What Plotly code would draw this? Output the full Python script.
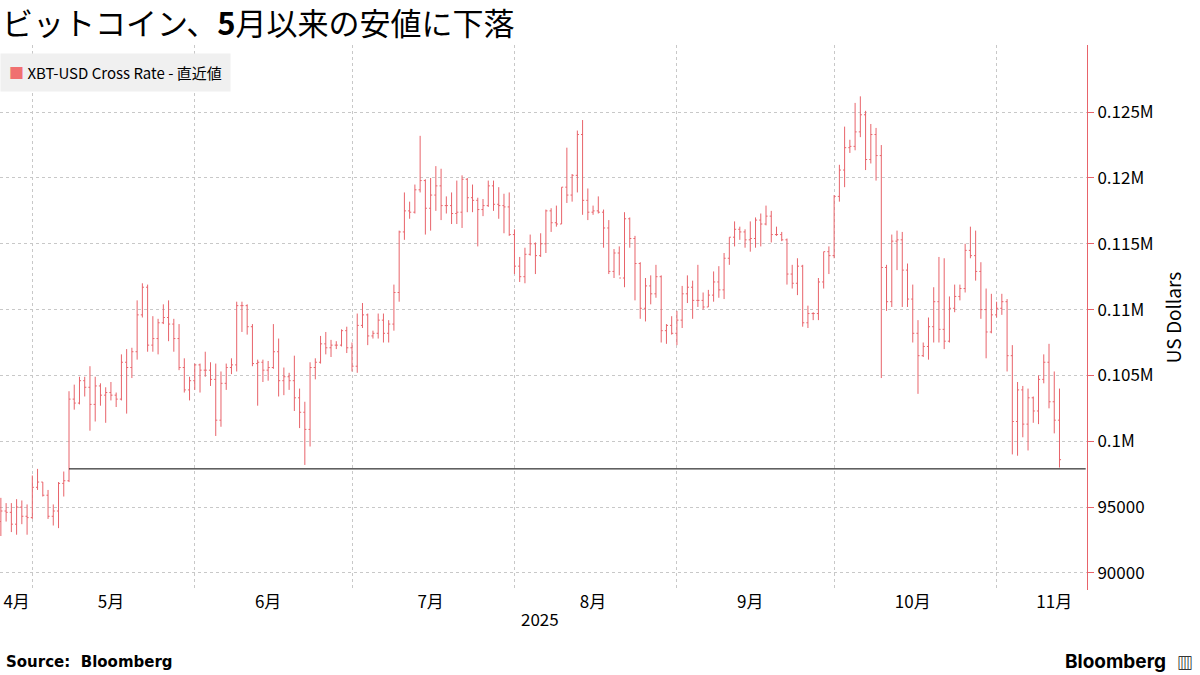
import pandas as pd
import plotly.graph_objects as go

# daily OHLC, thousands of USD, 2025-04-25 .. 2025-11-13
start_day = '2025-04-25'
opens = [93.9, 94.7, 94.6, 93.7, 95.0, 94.3, 94.2, 96.5, 96.9, 95.9, 94.3, 94.7, 96.8, 97.0, 103.2, 102.9, 104.6, 104.1, 102.8, 104.2,
         103.5, 103.7, 103.5, 103.2, 106.0, 105.6, 106.8, 109.6, 111.7, 107.3, 107.8, 109.0, 109.4, 108.9, 107.8, 105.6, 103.9,
         104.6, 105.8, 105.4, 105.4, 104.7, 101.6, 104.4, 105.6, 105.8, 110.3, 110.3, 108.7, 105.9, 106.0, 105.4, 105.6, 106.8,
         104.6, 104.9, 104.6, 103.3, 102.2, 100.9, 105.6, 106.0, 107.4, 107.1, 107.3, 107.3, 108.4, 107.1, 105.7, 108.8, 109.6,
         108.0, 108.2, 109.2, 108.2, 108.9, 111.3, 115.9, 117.5, 117.4, 119.1, 119.8, 117.7, 118.7, 119.4, 117.9, 117.9, 117.3,
         117.4, 119.9, 118.5, 118.3, 117.6, 117.9, 119.4, 118.0, 117.9, 117.8, 115.7, 113.3, 112.5, 114.2, 115.0, 114.1, 115.0,
         117.5, 116.6, 116.5, 119.3, 118.7, 120.2, 123.3, 118.3, 117.4, 117.5, 117.4, 116.2, 112.9, 114.3, 112.4, 116.9, 115.4,
         113.5, 110.1, 111.8, 111.2, 112.5, 108.4, 108.8, 108.2, 109.2, 111.2, 111.7, 110.7, 110.7, 110.2, 111.1, 112.1, 111.5,
         113.9, 115.5, 116.1, 115.9, 115.3, 115.4, 116.8, 116.5, 117.1, 115.7, 115.7, 115.3, 112.7, 112.0, 113.3, 109.0, 109.7,
         109.7, 112.1, 114.4, 114.1, 118.6, 120.6, 122.3, 122.4, 123.5, 124.8, 121.4, 123.3, 121.7, 113.2, 110.6, 115.2, 115.3,
         113.0, 110.8, 108.2, 106.5, 107.2, 108.7, 110.6, 108.5, 107.6, 110.1, 111.0, 111.6, 114.5, 114.1, 112.9, 110.0, 108.3,
         109.6, 110.1, 110.6, 106.5, 101.5, 103.9, 101.3, 103.3, 102.3, 104.7, 106.0, 103.0, 101.6]
highs = [95.7, 95.3, 95.3, 95.6, 95.5, 95.2, 97.4, 97.9, 96.9, 96.3, 95.2, 96.9, 97.7, 103.8, 104.3, 104.9, 104.9, 105.7, 104.9, 104.4,
         104.1, 104.5, 103.7, 106.6, 107.0, 107.1, 110.7, 112.0, 111.9, 109.5, 109.3, 110.4, 110.7, 109.3, 108.9, 106.3, 104.9,
         105.9, 105.9, 106.8, 106.0, 105.9, 105.3, 105.9, 106.3, 110.6, 110.6, 110.4, 108.9, 106.2, 106.2, 106.1, 108.9, 107.8,
         105.6, 105.2, 106.5, 104.0, 103.0, 106.0, 106.3, 108.0, 108.3, 107.7, 107.6, 108.5, 108.7, 107.5, 109.7, 110.5, 109.7,
         108.4, 109.7, 109.7, 109.2, 111.9, 116.0, 118.9, 118.2, 119.5, 123.2, 119.9, 120.0, 120.9, 120.7, 118.6, 118.9, 119.8,
         120.2, 120.0, 119.5, 118.5, 118.4, 119.8, 119.8, 119.3, 118.8, 118.9, 116.1, 114.0, 114.7, 115.7, 115.1, 115.8, 117.6,
         117.7, 117.9, 119.3, 122.3, 120.3, 123.6, 124.4, 119.2, 117.9, 118.6, 117.6, 116.8, 114.6, 114.8, 117.4, 117.0, 115.6,
         113.6, 112.4, 112.6, 113.4, 112.6, 108.9, 109.5, 109.9, 111.8, 112.6, 112.2, 113.4, 111.3, 111.5, 112.9, 113.3, 114.3,
         115.5, 116.7, 116.3, 116.1, 116.7, 117.0, 117.3, 117.9, 117.5, 116.3, 115.9, 115.4, 113.4, 113.9, 113.4, 110.3, 109.8,
         112.4, 114.4, 114.8, 118.7, 121.0, 123.9, 122.9, 125.7, 126.2, 125.1, 124.1, 123.8, 122.5, 113.4, 115.7, 116.0, 115.9,
         113.5, 111.9, 109.2, 107.5, 109.4, 111.7, 114.0, 113.9, 111.0, 111.9, 111.9, 115.0, 116.3, 116.0, 113.6, 111.6, 111.2,
         110.6, 111.2, 110.8, 107.3, 104.5, 104.2, 104.0, 103.4, 105.0, 106.6, 107.4, 105.3, 104.0]
lows = [92.8, 93.9, 93.1, 92.9, 93.7, 92.9, 94.1, 96.3, 95.8, 94.1, 93.6, 93.4, 95.8, 96.9, 102.4, 102.8, 103.4, 100.8, 101.5, 102.7,
        101.4, 103.1, 102.6, 103.1, 102.1, 104.8, 106.2, 109.4, 106.8, 106.8, 106.6, 108.9, 107.6, 106.8, 105.4, 103.7, 103.1,
        103.9, 103.7, 104.9, 104.2, 100.4, 101.1, 103.9, 105.1, 105.3, 108.3, 108.1, 105.7, 102.7, 104.5, 104.6, 105.5, 103.4,
        103.5, 103.9, 102.3, 101.0, 98.2, 99.6, 104.7, 105.9, 106.6, 106.4, 107.0, 107.2, 106.7, 105.3, 105.2, 108.6, 107.3,
        107.8, 107.8, 107.5, 107.5, 108.4, 110.6, 115.3, 116.9, 117.3, 118.9, 115.7, 116.0, 117.5, 116.8, 117.3, 116.5, 116.5,
        116.2, 117.4, 117.4, 114.8, 117.1, 117.8, 117.5, 116.9, 115.8, 115.6, 112.7, 112.1, 112.0, 114.1, 112.7, 114.0, 114.3,
        115.9, 116.3, 116.5, 118.1, 118.2, 118.9, 117.2, 116.8, 117.2, 117.3, 114.7, 112.7, 112.4, 112.6, 111.7, 114.7, 110.7,
        109.3, 109.1, 110.4, 110.9, 107.5, 107.4, 108.1, 107.3, 108.6, 110.5, 109.3, 110.2, 110.0, 110.2, 110.6, 110.9, 110.8,
        113.4, 114.8, 115.3, 114.7, 114.4, 114.7, 114.8, 116.4, 115.1, 115.6, 115.2, 111.9, 111.6, 111.1, 108.7, 108.6, 109.2,
        109.2, 111.6, 112.7, 113.9, 118.2, 119.3, 121.9, 122.1, 123.1, 120.6, 121.1, 119.8, 104.8, 109.9, 110.2, 113.0, 110.2,
        110.2, 107.5, 103.6, 106.4, 106.2, 107.5, 107.5, 107.0, 107.5, 109.8, 110.7, 111.3, 113.9, 112.2, 109.3, 106.3, 108.2,
        109.4, 109.6, 105.3, 99.0, 98.9, 100.3, 99.3, 101.4, 101.3, 104.4, 102.5, 100.6, 98.0]
closes = [94.7, 94.6, 93.7, 95.0, 94.3, 94.2, 96.5, 96.9, 95.9, 94.3, 94.7, 96.8, 97.0, 103.2, 102.9, 104.6, 104.1, 102.8, 104.2,
          103.5, 103.7, 103.5, 103.2, 106.0, 105.6, 106.8, 109.6, 111.7, 107.3, 107.8, 109.0, 109.4, 108.9, 107.8, 105.6, 103.9,
          104.6, 105.8, 105.4, 105.4, 104.7, 101.6, 104.4, 105.6, 105.8, 110.3, 110.3, 108.7, 105.9, 106.0, 105.4, 105.6, 106.8,
          104.6, 104.9, 104.6, 103.3, 102.2, 100.9, 105.6, 106.0, 107.4, 107.1, 107.3, 107.3, 108.4, 107.1, 105.7, 108.8, 109.6,
          108.0, 108.2, 109.2, 108.2, 108.9, 111.3, 115.9, 117.5, 117.4, 119.1, 119.8, 117.7, 118.7, 119.4, 117.9, 117.9, 117.3,
          117.4, 119.9, 118.5, 118.3, 117.6, 117.9, 119.4, 118.0, 117.9, 117.8, 115.7, 113.3, 112.5, 114.2, 115.0, 114.1, 115.0,
          117.5, 116.6, 116.5, 119.3, 118.7, 120.2, 123.3, 118.3, 117.4, 117.5, 117.4, 116.2, 112.9, 114.3, 112.4, 116.9, 115.4,
          113.5, 110.1, 111.8, 111.2, 112.5, 108.4, 108.8, 108.2, 109.2, 111.2, 111.7, 110.7, 110.7, 110.2, 111.1, 112.1, 111.5,
          113.9, 115.5, 116.1, 115.9, 115.3, 115.4, 116.8, 116.5, 117.1, 115.7, 115.7, 115.3, 112.7, 112.0, 113.3, 109.0, 109.7,
          109.7, 112.1, 114.4, 114.1, 118.6, 120.6, 122.3, 122.4, 123.5, 124.8, 121.4, 123.3, 121.7, 113.2, 110.6, 115.2, 115.3,
          113.0, 110.8, 108.2, 106.5, 107.2, 108.7, 110.6, 108.5, 107.6, 110.1, 111.0, 111.6, 114.5, 114.1, 112.9, 110.0, 108.3,
          109.6, 110.1, 110.6, 106.5, 101.5, 103.9, 101.3, 103.3, 102.3, 104.7, 106.0, 103.0, 101.6, 98.6]

ref_level = 97.9
ref_from = '2025-05-08'

month_mid = ['2025-04-28', '2025-05-16', '2025-06-15', '2025-07-16', '2025-08-16', '2025-09-15', '2025-10-16', '2025-11-12']
month_labels = ['4月', '5月', '6月', '7月', '8月', '9月', '10月', '11月']
month_starts = ['2025-05-01', '2025-06-01', '2025-07-01', '2025-08-01', '2025-09-01', '2025-10-01', '2025-11-01']

y_ticks = [90000, 95000, 100000, 105000, 110000, 115000, 120000, 125000]
y_labels = ['90000', '95000', '0.1M', '0.105M', '0.11M', '0.115M', '0.12M', '0.125M']

dates = pd.date_range(start_day, periods=len(closes), freq='D')
k = 1000
red = '#e8636a'

fig = go.Figure(go.Ohlc(
    x=dates,
    open=[v * k for v in opens], high=[v * k for v in highs],
    low=[v * k for v in lows], close=[v * k for v in closes],
    increasing=dict(line=dict(color=red, width=1)),
    decreasing=dict(line=dict(color=red, width=1)),
    tickwidth=0.3, showlegend=False,
))

fig.add_shape(type='line', xref='x', yref='y', x0=ref_from, x1='2025-11-18',
              y0=ref_level * k, y1=ref_level * k, line=dict(color='black', width=1))

font = 'Noto Sans CJK JP'
fig.update_layout(
    width=1200, height=675, paper_bgcolor='white', plot_bgcolor='white',
    margin=dict(l=0, r=113, t=45, b=85),
    font=dict(family=font, size=17, color='black'),
    xaxis=dict(range=['2025-04-24 20:00', '2025-11-18 06:00'], rangeslider=dict(visible=False),
               tickmode='array', tickvals=month_mid, ticktext=month_labels, showgrid=False,
               ticks='', zeroline=False, showline=False,
               minor=dict(tickmode='array', tickvals=month_starts, showgrid=True,
                          gridcolor='#c8c8c8', griddash='dot', gridwidth=1, ticks='')),
    yaxis=dict(side='right', range=[88700, 130100], tickmode='array', tickvals=y_ticks, ticktext=y_labels,
               showgrid=True, gridcolor='#c8c8c8', griddash='dot', zeroline=False,
               showline=True, linecolor=red, linewidth=1, ticks='outside', tickcolor=red, ticklen=6,
               title=dict(text='US Dollars', font=dict(size=19)), tickfont=dict(size=17)),
)

fig.add_annotation(text='ビットコイン、<b>5</b>月以来の安値に下落', xref='paper', yref='paper',
                   x=0.0, y=1.043, xanchor='left', yanchor='middle', showarrow=False,
                   font=dict(size=31, family=font))
fig.add_annotation(text='<span style="color:#f07070">■</span> XBT-USD Cross Rate - 直近値',
                   xref='paper', yref='paper', x=0.0, y=0.949, xanchor='left', yanchor='middle',
                   showarrow=False, bgcolor='#f0f0f0', borderpad=8, font=dict(size=15, family=font))
fig.add_annotation(text='2025', xref='paper', yref='paper', x=0.497, y=-0.079, showarrow=False,
                   font=dict(size=17))
fig.add_annotation(text='<b>Source:  Bloomberg</b>', xref='paper', yref='paper', x=0.004, y=-0.132,
                   xanchor='left', yanchor='middle', showarrow=False, font=dict(size=15, family='DejaVu Sans'))
fig.add_annotation(text='<b>Bloomberg</b>', xref='paper', yref='paper', x=1.0745, y=-0.132,
                   xanchor='right', yanchor='middle', showarrow=False, font=dict(size=19, family='Inter'))
fig.add_annotation(text='<b>▥</b>', xref='paper', yref='paper', x=1.099, y=-0.132,
                   xanchor='right', yanchor='middle', showarrow=False, font=dict(size=16))

fig.write_html('out.html', config={'displayModeBar': False},
               post_script="document.body.style.margin='0';")
